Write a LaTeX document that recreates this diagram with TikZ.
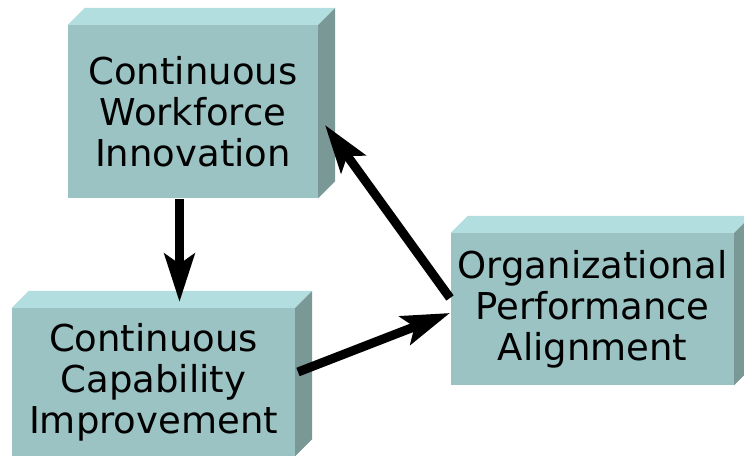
\documentclass[tikz,border=0pt]{standalone}
\usepackage{fontspec}
\setmainfont{DejaVu Sans}
\usetikzlibrary{arrows.meta,calc}
\definecolor{frontc}{RGB}{155,195,195}
\definecolor{topc}{RGB}{178,222,224}
\definecolor{sidec}{RGB}{122,152,150}
\tikzset{
  face/.style={draw=none, fill=frontc, inner sep=0pt, align=center,
    font=\fontsize{37}{41}\selectfont},
  arr/.style={line width=9pt, -{Stealth[length=48pt,width=30pt,inset=10pt]}},
}
\newcommand\threedsides[1]{%
  \fill[topc] (#1.north west) -- ++(17,-17) -- ($(#1.north east)+(17,-17)$) -- (#1.north east) -- cycle;
  \fill[sidec] (#1.north east) -- ++(17,-17) -- ($(#1.south east)+(17,-17)$) -- (#1.south east) -- cycle;
}
\begin{document}
\begin{tikzpicture}[x=1pt,y=-1pt]
\useasboundingbox (0,0) rectangle (744,457);
\node[face, minimum width=250pt, minimum height=173pt] (cwi) at (193,111.5)
  {Continuous\\Workforce\\Innovation};
\threedsides{cwi}
\node[face, minimum width=283pt, minimum height=148pt] (cci) at (153.5,382)
  {Continuous\\Capability\\Improvement};
\threedsides{cci}
\node[face, minimum width=283pt, minimum height=152pt] (opa) at (592.5,309)
  {Organizational\\Performance\\Alignment};
\threedsides{opa}
\coordinate (a1s) at (179.5,199);
\coordinate (a1e) at (179.5,302);
\coordinate (a2s) at (298,372);
\coordinate (a2e) at (450,313);
\coordinate (a3s) at (450,298);
\coordinate (a3e) at (325,125);
\draw[arr] (a1s) -- (a1e);
\draw[arr] (a2s) -- (a2e);
\draw[arr] (a3s) -- (a3e);
\end{tikzpicture}
\end{document}
